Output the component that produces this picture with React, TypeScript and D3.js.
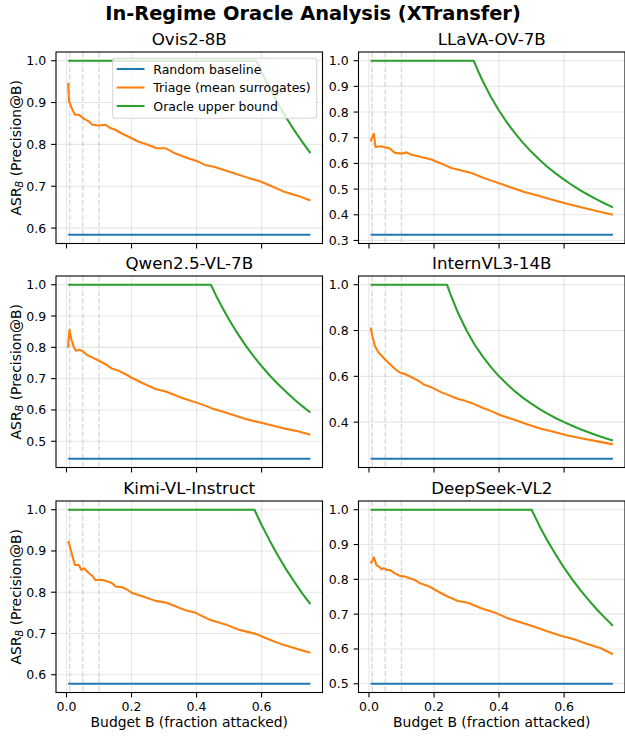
import React from "react";
import * as d3 from "d3";

const W = 625;
const H = 736;

const SUPTITLE = "In-Regime Oracle Analysis (XTransfer)";
const MODELS = ["Ovis2-8B", "LLaVA-OV-7B", "Qwen2.5-VL-7B", "InternVL3-14B", "Kimi-VL-Instruct", "DeepSeek-VL2"];
const BASELINE = [0.584, 0.322, 0.444, 0.24, 0.578, 0.5];
const B_RANGE = [0.005, 0.75];
const X_TICKS = [0, 0.2, 0.4, 0.6];
const MARKERS = [0.01, 0.05, 0.1];
const Y_TICKS = [
  [0.6, 0.7, 0.8, 0.9, 1.0],
  [0.3, 0.4, 0.5, 0.6, 0.7, 0.8, 0.9, 1.0],
  [0.5, 0.6, 0.7, 0.8, 0.9, 1.0],
  [0.4, 0.6, 0.8, 1.0],
  [0.6, 0.7, 0.8, 0.9, 1.0],
  [0.5, 0.6, 0.7, 0.8, 0.9, 1.0],
];
const LEGEND = ["Random baseline", "Triage (mean surrogates)", "Oracle upper bound"];
const COLORS = ["#1f77b4", "#ff7f0e", "#2ca02c"];

type P = [number, number];

const TRIAGE_OVIS: P[] = [
  [0.005, 0.947], [0.008, 0.903], [0.018, 0.883], [0.026, 0.871], [0.038, 0.871], [0.054, 0.861],
  [0.069, 0.855], [0.08, 0.847], [0.1, 0.845], [0.12, 0.847], [0.135, 0.839], [0.15, 0.835],
  [0.17, 0.826], [0.19, 0.819], [0.22, 0.807], [0.25, 0.799], [0.277, 0.791], [0.303, 0.791],
  [0.333, 0.779], [0.374, 0.767], [0.405, 0.759], [0.426, 0.751], [0.456, 0.746], [0.508, 0.733],
  [0.559, 0.72], [0.595, 0.712], [0.631, 0.7], [0.672, 0.686], [0.713, 0.677], [0.75, 0.666],
];
const TRIAGE_LLAVA: P[] = [
  [0.005, 0.686], [0.009, 0.699], [0.015, 0.715], [0.02, 0.664], [0.034, 0.667], [0.049, 0.663],
  [0.064, 0.658], [0.08, 0.641], [0.1, 0.638], [0.115, 0.643], [0.131, 0.634], [0.151, 0.628],
  [0.192, 0.615], [0.223, 0.599], [0.253, 0.582], [0.284, 0.572], [0.315, 0.563], [0.345, 0.547],
  [0.376, 0.533], [0.407, 0.52], [0.447, 0.502], [0.478, 0.489], [0.519, 0.475], [0.55, 0.463],
  [0.6, 0.446], [0.652, 0.429], [0.703, 0.414], [0.75, 0.4],
];
const TRIAGE_QWEN: P[] = [
  [0.005, 0.799], [0.007, 0.831], [0.009, 0.856], [0.015, 0.826], [0.023, 0.799], [0.03, 0.789],
  [0.038, 0.792], [0.048, 0.789], [0.064, 0.775], [0.079, 0.768], [0.1, 0.757], [0.12, 0.746],
  [0.14, 0.732], [0.161, 0.725], [0.182, 0.714], [0.202, 0.702], [0.233, 0.686], [0.274, 0.667],
  [0.305, 0.659], [0.356, 0.638], [0.407, 0.621], [0.448, 0.605], [0.489, 0.592], [0.551, 0.571],
  [0.602, 0.558], [0.664, 0.542], [0.715, 0.531], [0.75, 0.521],
];
const TRIAGE_INTERN: P[] = [
  [0.005, 0.813], [0.01, 0.777], [0.018, 0.733], [0.029, 0.704], [0.039, 0.69], [0.051, 0.671],
  [0.064, 0.654], [0.08, 0.632], [0.095, 0.617], [0.11, 0.61], [0.131, 0.596], [0.151, 0.581],
  [0.172, 0.562], [0.192, 0.552], [0.223, 0.53], [0.243, 0.519], [0.274, 0.501], [0.294, 0.494],
  [0.315, 0.484], [0.345, 0.465], [0.376, 0.448], [0.407, 0.429], [0.447, 0.41], [0.488, 0.39],
  [0.529, 0.371], [0.57, 0.357], [0.611, 0.342], [0.652, 0.33], [0.703, 0.316], [0.75, 0.303],
];
const TRIAGE_KIMI: P[] = [
  [0.005, 0.924], [0.009, 0.915], [0.017, 0.891], [0.026, 0.866], [0.038, 0.866], [0.046, 0.854],
  [0.054, 0.858], [0.069, 0.846], [0.079, 0.84], [0.089, 0.829], [0.105, 0.83], [0.12, 0.828],
  [0.14, 0.822], [0.151, 0.814], [0.171, 0.812], [0.187, 0.806], [0.202, 0.798], [0.233, 0.79],
  [0.274, 0.779], [0.305, 0.775], [0.335, 0.766], [0.366, 0.756], [0.397, 0.75], [0.438, 0.734],
  [0.489, 0.722], [0.53, 0.709], [0.582, 0.699], [0.612, 0.689], [0.664, 0.673], [0.715, 0.661],
  [0.75, 0.653],
];
const TRIAGE_DEEPSEEK: P[] = [
  [0.005, 0.846], [0.01, 0.853], [0.015, 0.863], [0.023, 0.841], [0.034, 0.834], [0.039, 0.829],
  [0.046, 0.832], [0.054, 0.827], [0.064, 0.827], [0.08, 0.817], [0.095, 0.81], [0.11, 0.808],
  [0.141, 0.798], [0.161, 0.787], [0.182, 0.781], [0.212, 0.765], [0.243, 0.75], [0.274, 0.738],
  [0.304, 0.733], [0.345, 0.717], [0.386, 0.705], [0.427, 0.688], [0.468, 0.676], [0.509, 0.664],
  [0.55, 0.65], [0.59, 0.638], [0.631, 0.628], [0.672, 0.614], [0.713, 0.602], [0.75, 0.585],
];

const ORACLE_OVIS: P[] = [
  [0.005, 1], [0.584, 1], [0.6, 0.973], [0.625, 0.934], [0.65, 0.898], [0.675, 0.865],
  [0.7, 0.834], [0.725, 0.806], [0.75, 0.779],
];
const ORACLE_LLAVA: P[] = [
  [0.005, 1], [0.322, 1], [0.335, 0.961], [0.35, 0.92], [0.375, 0.859], [0.4, 0.805], [0.425, 0.758],
  [0.45, 0.716], [0.475, 0.678], [0.5, 0.644], [0.525, 0.613], [0.55, 0.585], [0.575, 0.56],
  [0.6, 0.537], [0.625, 0.515], [0.65, 0.495], [0.675, 0.477], [0.7, 0.46], [0.725, 0.444], [0.75, 0.429],
];
const ORACLE_QWEN: P[] = [
  [0.005, 1], [0.444, 1], [0.46, 0.965], [0.475, 0.935], [0.5, 0.888], [0.525, 0.846], [0.55, 0.807],
  [0.575, 0.772], [0.6, 0.74], [0.625, 0.71], [0.65, 0.683], [0.675, 0.658], [0.7, 0.634],
  [0.725, 0.612], [0.75, 0.592],
];
const ORACLE_INTERN: P[] = [
  [0.005, 1], [0.24, 1], [0.25, 0.96], [0.275, 0.873], [0.3, 0.8], [0.325, 0.738], [0.35, 0.686],
  [0.375, 0.64], [0.4, 0.6], [0.425, 0.565], [0.45, 0.533], [0.475, 0.505], [0.5, 0.48],
  [0.525, 0.457], [0.55, 0.436], [0.575, 0.417], [0.6, 0.4], [0.625, 0.384], [0.65, 0.369],
  [0.675, 0.356], [0.7, 0.343], [0.725, 0.331], [0.75, 0.32],
];
const ORACLE_KIMI: P[] = [
  [0.005, 1], [0.578, 1], [0.6, 0.963], [0.625, 0.925], [0.65, 0.889], [0.675, 0.856],
  [0.7, 0.826], [0.725, 0.797], [0.75, 0.771],
];
const ORACLE_DEEPSEEK: P[] = [
  [0.005, 1], [0.5, 1], [0.525, 0.952], [0.55, 0.909], [0.575, 0.87], [0.6, 0.833], [0.625, 0.8],
  [0.65, 0.769], [0.675, 0.741], [0.7, 0.714], [0.725, 0.69], [0.75, 0.667],
];

const TRIAGE = [TRIAGE_OVIS, TRIAGE_LLAVA, TRIAGE_QWEN, TRIAGE_INTERN, TRIAGE_KIMI, TRIAGE_DEEPSEEK];
const ORACLE = [ORACLE_OVIS, ORACLE_LLAVA, ORACLE_QWEN, ORACLE_INTERN, ORACLE_KIMI, ORACLE_DEEPSEEK];

const FONT = "DejaVu Sans, sans-serif";
const COL_X = [56, 358.5];
const PANEL_W = 266.5;
const ROW_Y = [52, 276, 501];
const PANEL_H = 191.5;
const LW = 2.08;

function Panel({ i }: { i: number }) {
  const col = i % 2;
  const row = Math.floor(i / 2);
  const x0 = COL_X[col];
  const y0 = ROW_Y[row];
  const p = BASELINE[i];
  const xr = B_RANGE[1] - B_RANGE[0];
  const x = d3
    .scaleLinear()
    .domain([B_RANGE[0] - 0.05 * xr, B_RANGE[1] + 0.05 * xr])
    .range([x0, x0 + PANEL_W]);
  const yr = 1 - p;
  const y = d3
    .scaleLinear()
    .domain([p - 0.05 * yr, 1 + 0.05 * yr])
    .range([y0 + PANEL_H, y0]);
  const line = d3
    .line<P>()
    .x((d) => x(d[0]))
    .y((d) => y(d[1]));
  const yb = y0 + PANEL_H;
  const clipId = `clip${i}`;
  const baseData: P[] = [
    [B_RANGE[0], p],
    [B_RANGE[1], p],
  ];
  return (
    <g>
      <defs>
        <clipPath id={clipId}>
          <rect x={x0} y={y0} width={PANEL_W} height={PANEL_H} />
        </clipPath>
      </defs>
      <g clipPath={`url(#${clipId})`}>
        {X_TICKS.map((t) => (
          <line key={"gx" + t} x1={x(t)} x2={x(t)} y1={y0} y2={yb} stroke="#b0b0b0" strokeOpacity={0.3} strokeWidth={1.1} />
        ))}
        {Y_TICKS[i].map((t) => (
          <line key={"gy" + t} x1={x0} x2={x0 + PANEL_W} y1={y(t)} y2={y(t)} stroke="#b0b0b0" strokeOpacity={0.3} strokeWidth={1.1} />
        ))}
        {MARKERS.map((m) => (
          <line key={"m" + m} x1={x(m)} x2={x(m)} y1={y0} y2={yb} stroke="#808080" strokeOpacity={0.3} strokeWidth={1.4} strokeDasharray="5.2,2.2" />
        ))}
        <path d={line(baseData) || ""} fill="none" stroke={COLORS[0]} strokeWidth={LW} />
        <path d={line(TRIAGE[i]) || ""} fill="none" stroke={COLORS[1]} strokeWidth={LW} strokeLinejoin="round" />
        <path d={line(ORACLE[i]) || ""} fill="none" stroke={COLORS[2]} strokeWidth={LW} strokeLinejoin="round" />
      </g>
      <rect x={x0} y={y0} width={PANEL_W} height={PANEL_H} fill="none" stroke="#000" strokeWidth={1.1} />
      {X_TICKS.map((t) => (
        <g key={"xt" + t}>
          <line x1={x(t)} x2={x(t)} y1={yb} y2={yb + 4.9} stroke="#000" strokeWidth={1.1} />
          {row === 2 && (
            <text x={x(t)} y={yb + 18.5} fontSize={12.5} textAnchor="middle" fontFamily={FONT} fill="#000">
              {t.toFixed(1)}
            </text>
          )}
        </g>
      ))}
      {Y_TICKS[i].map((t) => (
        <g key={"yt" + t}>
          <line x1={x0 - 4.9} x2={x0} y1={y(t)} y2={y(t)} stroke="#000" strokeWidth={1.1} />
          <text x={x0 - 9.8} y={y(t)} dy="0.36em" fontSize={12.5} textAnchor="end" fontFamily={FONT} fill="#000">
            {t.toFixed(1)}
          </text>
        </g>
      ))}
      <text x={x0 + PANEL_W / 2} y={y0 - 7} fontSize={16.7} textAnchor="middle" fontFamily={FONT} fill="#000">
        {MODELS[i]}
      </text>
      {row === 2 && (
        <text x={x0 + PANEL_W / 2} y={726.5} fontSize={13.9} textAnchor="middle" fontFamily={FONT} fill="#000">
          Budget B (fraction attacked)
        </text>
      )}
      {col === 0 && (
        <text
          transform={`translate(20.5,${y0 + PANEL_H / 2}) rotate(-90)`}
          fontSize={13.9}
          textAnchor="middle"
          fontFamily={FONT}
          fill="#000"
        >
          ASR
          <tspan fontSize={9.7} fontStyle="italic" dy={2.8}>B</tspan>
          <tspan dy={-2.8}> (Precision@B)</tspan>
        </text>
      )}
      {i === 0 && (
        <g>
          <rect x={112.7} y={58.3} width={204} height={60} rx={2.8} fill="#fff" fillOpacity={0.8} stroke="#cccccc" strokeOpacity={0.8} strokeWidth={1.1} />
          {LEGEND.map((lab, k) => (
            <g key={lab}>
              <line x1={116.7} x2={144.5} y1={69 + k * 18.5} y2={69 + k * 18.5} stroke={COLORS[k]} strokeWidth={LW} />
              <text x={153.3} y={69 + k * 18.5} dy="0.36em" fontSize={12.5} fontFamily={FONT} fill="#000">
                {lab}
              </text>
            </g>
          ))}
        </g>
      )}
    </g>
  );
}

export default function App() {
  return (
    <svg
      width={W}
      height={H}
      viewBox={`0 0 ${W} ${H}`}
      style={{ position: "absolute", left: 0, top: 0, background: "#fff" }}
    >
      <rect width={W} height={H} fill="#fff" />
      <text x={W / 2 + 0.5} y={20} fontSize={19.4} fontWeight="bold" textAnchor="middle" fontFamily={FONT} fill="#000">
        {SUPTITLE}
      </text>
      {MODELS.map((_, i) => (
        <Panel key={i} i={i} />
      ))}
    </svg>
  );
}
